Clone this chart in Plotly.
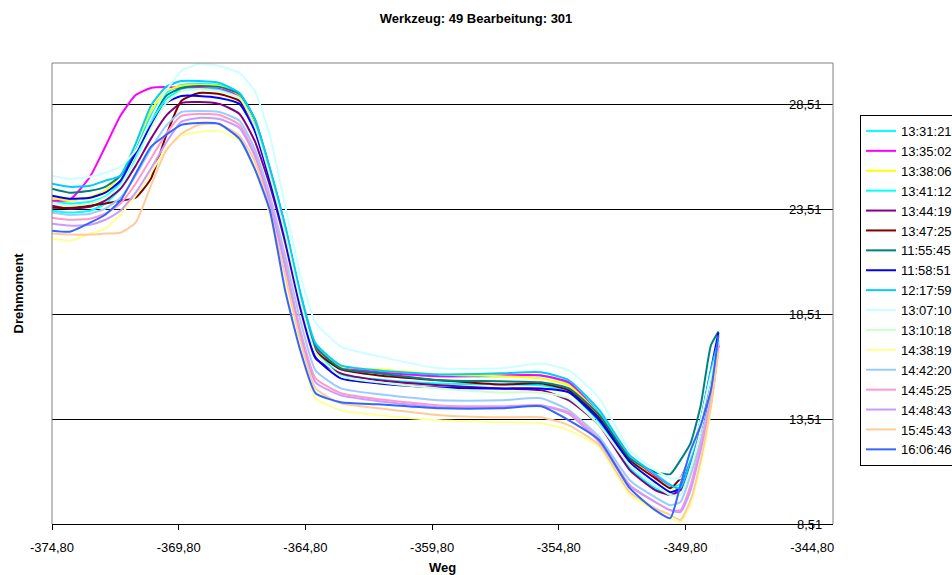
import plotly.graph_objects as go

# Shared x positions (Weg)
X = [-374.8, -374.1, -373.3, -372.7, -372.1, -371.5, -370.9, -370.3, -369.7, -369.0,
     -368.2, -367.4, -366.8, -366.2, -365.6, -365.0, -364.4, -363.4, -361.9, -359.5,
     -357.1, -355.5, -354.4, -353.2, -352.0, -351.0, -350.4, -350.0, -349.6, -349.2,
     -348.8, -348.5]

SERIES_NAMES = ["13:31:21", "13:35:02", "13:38:06", "13:41:12", "13:44:19", "13:47:25",
                "11:55:45", "11:58:51", "12:17:59", "13:07:10", "13:10:18", "14:38:19",
                "14:42:20", "14:45:25", "14:48:43", "15:45:43", "16:06:46"]

SERIES_COLORS = ["#00FFFF", "#FF00FF", "#FFFF00", "#00FFFF", "#800080", "#800000",
                 "#008080", "#0000FF", "#00CCFF", "#CCFFFF", "#CCFFCC", "#FFFF99",
                 "#99CCFF", "#FF99CC", "#CC99FF", "#FFCC99", "#3366FF"]

# Drehmoment values per series
S_133121 = [23.94, 23.80, 23.89, 24.13, 24.80, 26.32, 27.99, 29.08, 29.46, 29.51, 29.46, 29.03, 27.75, 25.37, 22.60, 19.41, 17.03, 15.94, 15.75, 15.56, 15.56, 15.60, 15.22, 13.79, 11.65, 10.70, 10.27, 10.41, 11.56, 13.37, 15.46, 17.27]
S_133502 = [23.94, 23.98, 25.08, 26.51, 27.99, 28.98, 29.32, 29.37, 29.32, 29.32, 29.27, 28.94, 27.65, 25.27, 22.51, 19.27, 16.94, 16.03, 15.75, 15.56, 15.60, 15.60, 15.27, 13.70, 11.65, 10.79, 10.37, 10.13, 11.32, 13.08, 15.13, 17.03]
S_133806 = [24.08, 23.94, 24.13, 24.41, 25.13, 26.65, 28.22, 29.17, 29.41, 29.46, 29.41, 28.98, 27.75, 25.37, 22.60, 19.37, 16.98, 16.03, 15.89, 15.65, 15.56, 15.46, 15.13, 13.70, 11.65, 10.70, 10.22, 10.32, 11.46, 13.22, 15.37, 17.27]
S_134112 = [23.46, 23.37, 23.46, 23.80, 24.51, 25.94, 27.60, 28.79, 29.22, 29.27, 29.22, 28.84, 27.51, 25.13, 22.41, 19.17, 16.79, 15.65, 15.41, 15.22, 15.17, 15.13, 14.79, 13.37, 11.17, 10.22, 9.89, 10.13, 11.41, 13.08, 15.13, 17.17]
S_134419 = [23.70, 23.56, 23.65, 23.94, 24.51, 25.60, 26.89, 27.99, 28.60, 28.65, 28.56, 28.08, 26.79, 24.65, 21.94, 18.79, 16.41, 15.70, 15.37, 15.13, 14.98, 14.89, 14.41, 13.22, 11.08, 10.13, 9.89, 10.13, 11.46, 12.98, 14.89, 17.03]
S_134725 = [23.60, 23.60, 23.70, 23.80, 23.94, 24.08, 24.98, 27.03, 28.70, 29.08, 29.03, 28.70, 27.51, 25.13, 22.41, 19.27, 16.79, 15.89, 15.60, 15.37, 15.17, 15.22, 14.89, 13.56, 11.56, 10.70, 10.22, 10.70, 11.79, 13.22, 15.13, 17.03]
S_115545 = [24.51, 24.32, 24.41, 24.60, 25.13, 26.32, 27.84, 28.94, 29.32, 29.41, 29.37, 29.03, 27.84, 25.46, 22.70, 19.46, 16.98, 15.94, 15.70, 15.37, 15.32, 15.27, 14.98, 13.70, 11.65, 10.98, 10.89, 11.56, 12.37, 14.17, 17.03, 17.70]
S_115851 = [24.18, 24.03, 24.08, 24.32, 24.89, 26.22, 27.51, 28.60, 28.94, 28.94, 28.84, 28.56, 27.27, 24.89, 22.13, 18.94, 16.46, 15.46, 15.22, 15.03, 14.98, 14.98, 14.79, 13.46, 11.46, 10.51, 10.03, 10.22, 11.56, 13.46, 15.84, 17.65]
S_121759 = [24.75, 24.60, 24.65, 24.89, 25.13, 26.65, 28.46, 29.37, 29.65, 29.65, 29.56, 29.08, 27.84, 25.46, 22.75, 19.56, 17.13, 16.08, 15.84, 15.65, 15.70, 15.75, 15.37, 13.94, 11.79, 10.89, 10.37, 10.22, 11.56, 13.46, 15.84, 17.27]
S_130710 = [25.13, 24.98, 25.08, 25.27, 25.56, 26.32, 27.84, 29.17, 30.13, 30.46, 30.37, 30.03, 29.17, 27.03, 23.70, 20.37, 18.13, 16.98, 16.51, 15.94, 15.94, 16.17, 15.84, 14.51, 12.03, 11.08, 10.70, 10.70, 11.79, 13.46, 15.60, 17.03]
S_131018 = [23.84, 23.70, 23.80, 24.08, 24.65, 25.84, 27.37, 28.60, 29.17, 29.27, 29.17, 28.84, 27.51, 25.13, 22.37, 19.17, 16.70, 15.56, 15.27, 14.98, 14.79, 14.79, 14.51, 13.22, 11.32, 10.37, 9.89, 9.89, 11.17, 12.98, 15.13, 17.27]
S_143819 = [22.13, 22.03, 22.37, 22.60, 23.27, 24.18, 25.27, 26.41, 27.03, 27.22, 27.27, 26.79, 25.60, 23.22, 19.89, 16.79, 14.51, 13.94, 13.70, 13.46, 13.37, 13.32, 12.98, 12.17, 9.89, 9.17, 8.79, 8.60, 9.41, 11.32, 13.94, 16.70]
S_144220 = [23.37, 23.27, 23.32, 23.56, 24.08, 25.13, 26.41, 27.51, 28.17, 28.22, 28.17, 27.75, 26.41, 24.18, 21.32, 18.22, 15.84, 14.98, 14.70, 14.41, 14.41, 14.51, 13.94, 12.65, 10.60, 9.79, 9.41, 9.56, 10.84, 12.51, 14.65, 17.13]
S_144525 = [23.13, 23.03, 23.08, 23.32, 23.80, 24.75, 25.94, 27.13, 27.99, 28.08, 28.03, 27.56, 26.17, 23.94, 20.98, 17.75, 15.46, 14.75, 14.46, 14.17, 14.13, 14.17, 13.84, 12.51, 10.37, 9.56, 9.17, 9.17, 10.37, 12.27, 14.41, 17.03]
S_144843 = [22.84, 22.75, 22.79, 23.03, 23.46, 24.32, 25.46, 26.70, 27.70, 27.89, 27.84, 27.41, 26.08, 23.80, 20.79, 17.51, 15.27, 14.65, 14.37, 14.08, 14.08, 14.17, 13.75, 12.41, 10.32, 9.56, 9.17, 9.08, 10.13, 12.03, 14.17, 16.89]
S_154543 = [22.37, 22.32, 22.32, 22.37, 22.41, 22.89, 24.65, 26.32, 27.13, 27.56, 27.60, 27.03, 25.84, 23.46, 20.37, 17.27, 14.98, 14.27, 14.03, 13.70, 13.60, 13.60, 13.22, 12.27, 10.03, 9.27, 8.94, 8.70, 9.65, 11.56, 14.17, 16.79]
S_160646 = [22.51, 22.46, 22.89, 23.27, 23.94, 25.22, 26.51, 27.08, 27.56, 27.65, 27.60, 26.89, 25.46, 23.46, 19.65, 16.79, 14.75, 14.32, 14.22, 14.03, 14.03, 14.13, 13.46, 12.51, 10.22, 9.17, 8.79, 10.37, 12.03, 13.22, 14.89, 17.51]

SERIES_VALUES = [S_133121, S_133502, S_133806, S_134112, S_134419, S_134725, S_115545,
                 S_115851, S_121759, S_130710, S_131018, S_143819, S_144220, S_144525,
                 S_144843, S_154543, S_160646]

X_TICKS = [-374.8, -369.8, -364.8, -359.8, -354.8, -349.8, -344.8]
X_TICK_LABELS = ["-374,80", "-369,80", "-364,80", "-359,80", "-354,80", "-349,80", "-344,80"]
Y_TICKS = [8.51, 13.51, 18.51, 23.51, 28.51]
Y_TICK_LABELS = ["8,51", "13,51", "18,51", "23,51", "28,51"]
X_RANGE = [-374.8, -343.98]
Y_RANGE = [8.51, 30.51]

TITLE = "Werkzeug: 49 Bearbeitung: 301"
X_TITLE = "Weg"
Y_TITLE = "Drehmoment"

FONT = "Liberation Sans, Arial, sans-serif"

fig = go.Figure()
for name, color, vals in zip(SERIES_NAMES, SERIES_COLORS, SERIES_VALUES):
    fig.add_trace(go.Scatter(
        x=X, y=vals, name=name, mode="lines",
        line=dict(color=color, width=2, shape="spline", smoothing=0.5),
    ))

annotations = [
    dict(text="<b>" + X_TITLE + "</b>", xref="paper", yref="paper", x=0.5,
         y=-(567 - 524) / 461, showarrow=False, xanchor="center", yanchor="middle",
         font=dict(size=13)),
    dict(text="<b>" + Y_TITLE + "</b>", xref="paper", yref="paper", x=-(52 - 18) / 781,
         y=0.5, showarrow=False, textangle=-90, xanchor="center", yanchor="middle",
         font=dict(size=13)),
]
# y tick labels drawn inside the plot at the right edge
for val, lab in zip(Y_TICKS, Y_TICK_LABELS):
    annotations.append(dict(text=lab, xref="paper", yref="y", x=1, y=val, xshift=-9,
                            showarrow=False, xanchor="right", yanchor="middle",
                            font=dict(size=13, color="black")))

fig.update_layout(
    width=952, height=575, autosize=False,
    paper_bgcolor="white", plot_bgcolor="white",
    margin=dict(l=52, r=119, t=63, b=51, autoexpand=False),
    font=dict(family=FONT, size=13, color="black"),
    title=dict(text="<b>" + TITLE + "</b>", x=0.5, xref="container", xanchor="center",
               y=1 - 18 / 575, yref="container", yanchor="middle",
               font=dict(family=FONT, size=13, color="black")),
    xaxis=dict(range=X_RANGE, tickvals=X_TICKS, ticktext=X_TICK_LABELS,
               showgrid=False, zeroline=False, showline=True, linecolor="black",
               linewidth=1, ticks="outside", ticklen=5, tickcolor="black",
               ticklabelstandoff=6, tickfont=dict(size=13)),
    yaxis=dict(range=Y_RANGE, tickvals=Y_TICKS, showticklabels=False, showgrid=True,
               gridcolor="black", gridwidth=1, zeroline=False, showline=False, ticks=""),
    legend=dict(x=(860 - 52) / 781, xanchor="left", y=(524 - 115) / 461, yanchor="top",
                bgcolor="white", bordercolor="black", borderwidth=1,
                font=dict(family=FONT, size=13), itemwidth=30, tracegroupgap=0),
    shapes=[dict(type="path", xref="paper", yref="paper", path="M0,0 L0,1 L1,1 L1,0",
                 line=dict(color="#808080", width=1), layer="above")],
    annotations=annotations,
)

fig.write_html("out.html")
